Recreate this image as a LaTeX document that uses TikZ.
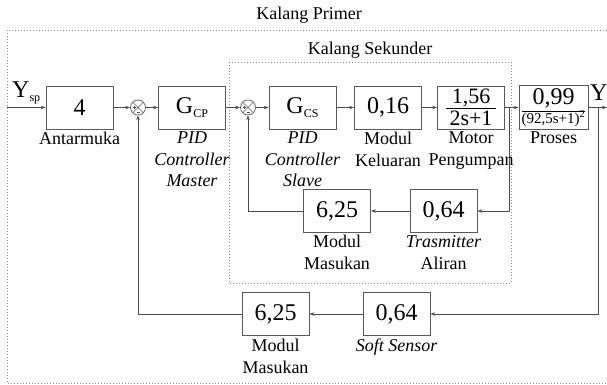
\documentclass[tikz,border=0pt]{standalone}
\usepackage{fontspec}
\setmainfont{Liberation Serif}
\usetikzlibrary{arrows.meta,calc}
\newcommand\blkfrac[6]{{\renewcommand\arraystretch{0}\begin{tabular}{@{\hspace{#5}}c@{\hspace{#5}}}\rule[-#3]{0pt}{#2}#1\\\hline\rule[-#6]{0pt}{#4}\end{tabular}}}
\begin{document}
\begin{tikzpicture}[x=1pt,y=-1pt,
 blk/.style={draw=black!65, line width=0.8pt, minimum width=67pt, minimum height=43pt, inner sep=0pt, font=\fontsize{24}{26}\selectfont},
 lbl/.style={anchor=north, align=center, inner sep=0pt, font=\fontsize{18}{21.5}\selectfont},
 lbli/.style={anchor=north, align=center, inner sep=0pt, font=\fontsize{18}{21.5}\selectfont\itshape},
 ttl/.style={inner sep=0pt, font=\fontsize{18}{20}\selectfont},
 sumj/.style={circle, draw=black!65, line width=0.7pt, minimum size=15pt, inner sep=0pt,
   path picture={\draw[black!65,line width=0.6pt] (path picture bounding box.north west) -- (path picture bounding box.south east) (path picture bounding box.north east) -- (path picture bounding box.south west);}},
 conn/.style={draw=black!70, line width=0.7pt},
 arr/.style={draw=black!70, line width=0.7pt, -{Stealth[length=5pt,width=3.5pt]}},
 zone/.style={draw=black!45, line width=0.7pt, dash pattern=on 1pt off 2pt},
 pm/.style={draw=black!70, line width=0.4pt},
]
\useasboundingbox (0,0) rectangle (607,385);

% zones
\draw[zone] (607,30) -- (7,30) -- (7,383) -- (607,383);
\draw[zone] (229,62) rectangle (511,283);
\node[ttl] (tprim) at (309,15) {Kalang Primer};
\node[ttl] (tsek) at (370,50) {Kalang Sekunder};

% forward path
\node[blk] (in4) at (79.5,107.5) {4};
\node[sumj] (s1) at (138,107.5) {};
\node[blk] (gcp) at (192,107.5) {G\raisebox{-4pt}{\fontsize{12}{12}\selectfont CP}};
\node[sumj] (s2) at (248,107.5) {};
\node[blk] (gcs) at (302.5,107.5) {G\raisebox{-4pt}{\fontsize{12}{12}\selectfont CS}};
\node[blk] (m016) at (388,107.5) {0,16};
\node[blk, font=\fontsize{22}{24}\selectfont] (motor) at (471,107.5)
  {{\renewcommand\arraystretch{0}\begin{tabular}{@{\hspace{4pt}}c@{\hspace{4pt}}}\rule[-5pt]{0pt}{16pt}1,56\\\hline\rule[-1pt]{0pt}{18pt}2s+1\end{tabular}}};
\node[blk, minimum width=69pt, minimum height=44pt] (proses) at (553.5,107.5)
  {{\renewcommand\arraystretch{0}\begin{tabular}{@{}c@{}}\rule[-6pt]{0pt}{17pt}\fontsize{24}{24}\selectfont 0,99\\\hline\rule[-3pt]{0pt}{13pt}\fontsize{15}{16}\selectfont (92,5s+1)\textsuperscript{2}\end{tabular}}};

% inner feedback
\node[blk] (tr064) at (443.5,211) {0,64};
\node[blk] (mm625) at (337,211) {6,25};
% outer feedback
\node[blk] (ss064) at (396.5,314) {0,64};
\node[blk] (om625) at (275.5,314) {6,25};

% input / output labels
\node[inner sep=0pt, anchor=west] (ysp) at (12,93) {{\fontsize{24}{26}\selectfont Y}\raisebox{-4pt}{\fontsize{12}{12}\selectfont sp}};
\node[inner sep=0pt, anchor=west, font=\fontsize{24}{26}\selectfont] (yout) at (590,93) {Y};

% block labels
\node[lbl] (lin4) at (79.5,132) {Antarmuka};
\node[lbli] (lgcp) at (192,132) {PID\\Controller\\Master};
\node[lbli] (lgcs) at (302.5,132) {PID\\Controller\\Slave};
\node[lbl] (lm016) at (388,132) {Modul\\Keluaran};
\node[lbl] (lmotor) at (471,132) {Motor\\Pengumpan};
\node[lbl] (lproses) at (553.5,132) {Proses};
\node[lbli] (ltr) at (443.5,235) {Trasmitter};
\node[lbl] (ltr2) at (443.5,256.5) {Aliran};
\node[lbl] (lmm) at (337,235) {Modul\\Masukan};
\node[lbli] (lss) at (396.5,339) {Soft Sensor};
\node[lbl] (lom) at (275.5,339) {Modul\\Masukan};

% sign marks in junctions
\foreach \s in {s1,s2}{
  \draw[pm] ($(\s.center)+(-5.5,0)$) -- ($(\s.center)+(-2.5,0)$);
  \draw[pm] ($(\s.center)+(-4,-1.5)$) -- ($(\s.center)+(-4,1.5)$);
  \draw[pm] ($(\s.center)+(-1.5,4.3)$) -- ($(\s.center)+(1.5,4.3)$);
}

% connectors
\coordinate (inp) at (7,107.5);
\coordinate (out) at (607,107.5);
\coordinate (b1) at (509,107.5);
\coordinate (b2) at (598,107.5);
\draw[arr] (inp) -- (in4.west);
\draw[arr] (in4.east) -- (s1.west);
\draw[arr] (s1.east) -- (gcp.west);
\draw[arr] (gcp.east) -- (s2.west);
\draw[arr] (s2.east) -- (gcs.west);
\draw[arr] (gcs.east) -- (m016.west);
\draw[arr] (m016.east) -- (motor.west);
\draw[arr] (motor.east) -- (proses.west);
\draw[arr] (proses.east) -- (out);
\draw[arr] (b1) |- (tr064.east);
\draw[arr] (tr064.west) -- (mm625.east);
\draw[arr] (mm625.west) -| (s2.south);
\draw[arr] (b2) |- (ss064.east);
\draw[arr] (ss064.west) -- (om625.east);
\draw[arr] (om625.west) -| (s1.south);
\end{tikzpicture}
\end{document}
